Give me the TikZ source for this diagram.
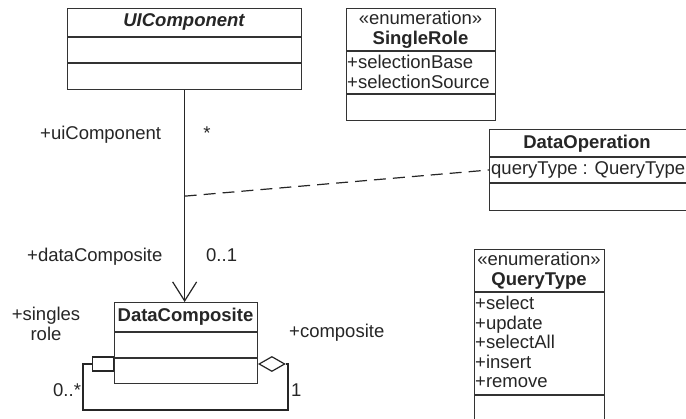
\documentclass[tikz,border=0pt]{standalone}
\usepackage{fontspec}
\setmainfont{Liberation Sans}
\usetikzlibrary{arrows.meta, shapes.geometric}

\begin{document}
\begin{tikzpicture}[x=1pt, y=-1pt,
    box/.style={draw=black!80, line width=1.3pt, inner sep=0pt, anchor=north west},
    txt/.style={font=\fontsize{18.5}{19.5}\selectfont, text=black!85, inner sep=0pt},
    attr/.style={txt, align=left, anchor=west},
    assoc/.style={draw=black!85, line width=1.2pt}]
  \clip (0,0) rectangle (686,419);
  \fill[white] (0,0) rectangle (686,419);

  % classes
  \node[box, minimum width=234pt, minimum height=81pt] (ui) at (67,8) {};
  \draw[black!80, line width=1.3pt] ([yshift=-29pt]ui.north west) -- ([yshift=-29pt]ui.north east)
    ([yshift=-55pt]ui.north west) -- ([yshift=-55pt]ui.north east);
  \node[txt, font=\fontsize{18.5}{19.5}\selectfont\bfseries\itshape] (uiname) at (184,22) {UIComponent};

  \node[box, minimum width=149pt, minimum height=112pt] (sr) at (346,8) {};
  \draw[black!80, line width=1.3pt] ([yshift=-43pt]sr.north west) -- ([yshift=-43pt]sr.north east)
    ([yshift=-86pt]sr.north west) -- ([yshift=-86pt]sr.north east);
  \node[txt, align=center, anchor=north] (srname) at (420.5,11) {«enumeration»\\\textbf{SingleRole}};
  \node[attr] (srattr) at (347,72) {+selectionBase\\+selectionSource};

  \node[box, minimum width=211pt, minimum height=81pt] (dop) at (489,129) {};
  \draw[black!80, line width=1.3pt] ([yshift=-28pt]dop.north west) -- ([yshift=-28pt]dop.north east)
    ([yshift=-54pt]dop.north west) -- ([yshift=-54pt]dop.north east);
  \node[txt, font=\fontsize{18.5}{19.5}\selectfont\bfseries] (dopname) at (587,144) {DataOperation};
  \node[attr] (qt) at (491,170) {queryType : QueryType};

  \node[box, minimum width=130pt, minimum height=190pt] (qtype) at (474,249) {};
  \draw[black!80, line width=1.3pt] ([yshift=-43pt]qtype.north west) -- ([yshift=-43pt]qtype.north east)
    ([yshift=-146pt]qtype.north west) -- ([yshift=-146pt]qtype.north east);
  \node[txt, align=center, anchor=north] (qtname) at (539,252) {«enumeration»\\\textbf{QueryType}};
  \node[attr] (qtattr) at (475,342) {+select\\+update\\+selectAll\\+insert\\+remove};

  \node[box, minimum width=143pt, minimum height=81pt] (dc) at (114,302) {};
  \draw[black!80, line width=1.3pt] ([yshift=-30pt]dc.north west) -- ([yshift=-30pt]dc.north east)
    ([yshift=-56pt]dc.north west) -- ([yshift=-56pt]dc.north east);
  \node[txt, font=\fontsize{18.5}{19.5}\selectfont\bfseries] (dcname) at (185.5,317) {DataComposite};

  % association UIComponent -> DataComposite
  \draw[assoc, -{Straight Barb[length=19pt, width=24pt, line width=1.2pt]}] (ui.south) -- (ui.south |- dc.north)
    coordinate[pos=0.5] (link);
  \draw[assoc, dash pattern=on 12pt off 7pt] (link) -- (dop.west |- qt.west);

  \node[txt, anchor=base west] (uirole) at (40,140) {+uiComponent};
  \node[txt, anchor=base] (uimult) at (207,140) {*};
  \node[txt, anchor=base west] (dcrole) at (27,262) {+dataComposite};
  \node[txt, anchor=base west] (dcmult) at (206,262) {0..1};

  % self association
  \node[draw=black!85, line width=1.2pt, fill=white, minimum width=21pt, minimum height=14pt, inner sep=0pt,
    anchor=east] (qual) at ([yshift=-62pt]dc.north west) {};
  \node[diamond, draw=black!85, line width=1.2pt, fill=white, inner sep=0pt, minimum width=26pt,
    minimum height=15pt, aspect=1.7, anchor=west] (dia) at ([yshift=-62pt]dc.north east) {};
  \coordinate (loopl) at (83,410);
  \coordinate (loopr) at (288,410);
  \draw[assoc] (qual.west) -| (loopl) -- (loopr) |- (dia.east);

  \node[txt, align=center, anchor=north] (singrole) at (46,307) {+singles\\role};
  \node[txt, anchor=base west] (comprole) at (289,338) {+composite};
  \node[txt, anchor=base west] (singmult) at (53,397) {0..*};
  \node[txt, anchor=base west] (compmult) at (291,397) {1};
\end{tikzpicture}
\end{document}
